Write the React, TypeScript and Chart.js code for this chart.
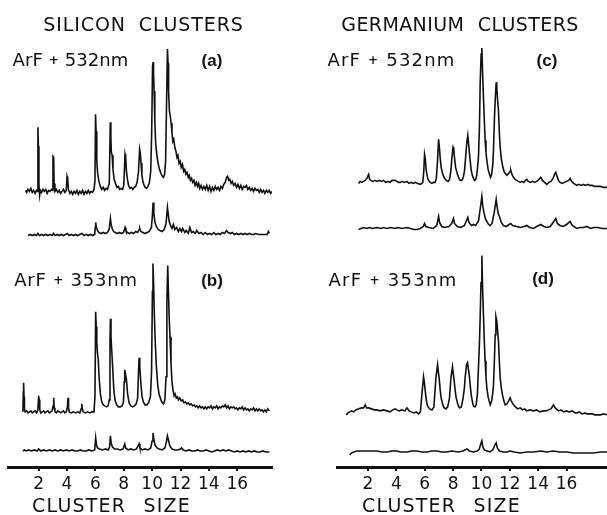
import React, { useEffect, useRef } from "react";
import { Chart, registerables } from "chart.js";

Chart.register(...registerables);

type Pt = [number, number];

// ---------- tick labels / text ----------
const CLUSTER_TICKS = [2, 4, 6, 8, 10, 12, 14, 16];
const TITLE_SI = "SILICON CLUSTERS";
const TITLE_GE = "GERMANIUM CLUSTERS";
const LASER_532 = ["ArF", "+", "532nm"];
const LASER_353 = ["ArF", "+", "353nm"];
const TAGS = ["(a)", "(b)", "(c)", "(d)"];
const AXIS_TITLE = "CLUSTER SIZE";

// ---------- data: [cluster size, signal] ----------
// (a) Si, ArF + 532 nm, upper trace
const SI_532_MAIN: Pt[] = [
  [1.08, 1], [1.15, -1], [1.25, 2], [1.35, 0], [1.45, 3], [1.55, -1], [1.65, 1], [1.75, -2], [1.85, 1], [1.92, 0],
  [1.95, 64], [1.98, 45], [2.02, 6], [2.07, -4], [2.12, 1], [2.2, -1], [2.3, 2], [2.4, 0], [2.5, 2], [2.6, -2], [2.7, 1], [2.8, 0], [2.9, 2], [2.98, 1],
  [3.01, 35], [3.06, 34], [3.09, 8], [3.15, 0], [3.25, 2], [3.35, -1], [3.45, 1], [3.55, -2], [3.65, 0], [3.75, 2], [3.85, -1], [3.95, 1],
  [4.0, 15], [4.05, 12], [4.1, 2], [4.2, -2], [4.3, 0], [4.4, -3], [4.5, 0], [4.6, -2], [4.7, 1], [4.8, -3], [4.9, 0], [5.0, -2], [5.1, 1], [5.2, -3], [5.3, 0], [5.4, -2], [5.5, 1], [5.6, -2], [5.7, 0], [5.8, -1], [5.9, 2], [5.97, 10],
  [6.01, 77], [6.05, 60], [6.1, 30], [6.16, 18], [6.25, 10], [6.35, 5], [6.45, 2], [6.55, 4], [6.65, 1], [6.75, 3], [6.85, 2], [6.98, 8],
  [7.05, 69], [7.09, 55], [7.12, 40], [7.18, 36], [7.24, 22], [7.32, 12], [7.42, 8], [7.52, 4], [7.62, 5], [7.72, 2], [7.82, 3], [7.92, 2], [8.0, 6],
  [8.09, 37], [8.14, 33], [8.19, 20], [8.26, 12], [8.34, 6], [8.44, 3], [8.54, 4], [8.64, 2], [8.74, 4], [8.84, 5], [8.94, 9], [9.04, 20],
  [9.12, 42], [9.17, 38], [9.22, 28], [9.28, 16], [9.36, 9], [9.44, 6], [9.52, 4], [9.6, 3], [9.7, 5], [9.8, 8], [9.9, 20], [9.97, 60],
  [10.03, 125], [10.07, 129], [10.1, 118], [10.14, 100], [10.19, 70], [10.25, 48], [10.32, 38], [10.42, 28], [10.52, 22], [10.62, 18], [10.72, 15], [10.8, 14], [10.88, 17], [10.95, 30], [11.02, 90],
  [11.08, 142], [11.12, 128], [11.16, 100], [11.22, 80], [11.28, 75], [11.34, 68], [11.4, 58], [11.46, 50], [11.52, 52], [11.6, 44], [11.68, 40], [11.75, 34], [11.82, 36], [11.9, 28], [11.98, 30],
  [12.05, 24], [12.14, 27], [12.22, 20], [12.3, 22], [12.38, 17], [12.46, 19], [12.55, 14], [12.62, 16], [12.7, 11], [12.78, 13], [12.86, 9], [12.95, 11],
  [13.03, 6], [13.12, 9], [13.2, 5], [13.28, 8], [13.36, 3], [13.45, 6], [13.55, 2], [13.65, 5], [13.75, 2], [13.85, 6], [13.95, 1],
  [14.05, 5], [14.15, 0], [14.25, 4], [14.35, 1], [14.45, 5], [14.55, 2], [14.65, 4], [14.75, 1], [14.85, 5], [14.95, 3],
  [15.05, 7], [15.15, 9], [15.25, 14], [15.32, 15], [15.4, 11], [15.48, 12], [15.56, 8], [15.65, 10], [15.75, 6], [15.85, 8], [15.95, 4],
  [16.05, 7], [16.15, 3], [16.25, 6], [16.35, 2], [16.45, 5], [16.55, 4], [16.65, 6], [16.75, 2], [16.85, 4], [16.95, 1],
  [17.05, 3], [17.15, 0], [17.25, 3], [17.35, 1], [17.45, 2], [17.55, -1], [17.65, 2], [17.75, -1], [17.85, 1], [17.95, -2],
  [18.05, 1], [18.15, -1], [18.25, 1], [18.35, -2], [18.45, 0],
];

// (a) Si, ArF + 532 nm, lower trace
const SI_532_REF: Pt[] = [
  [1.25, 0], [1.4, 1], [1.55, 0], [1.7, 1], [1.85, 0], [1.95, 2], [2.05, 0], [2.2, 1], [2.35, 0], [2.5, 1], [2.65, 0], [2.8, 1], [2.95, 0],
  [3.05, 2], [3.15, 0], [3.3, 1], [3.45, 0], [3.6, 1], [3.75, 0], [3.9, 1], [4.02, 2], [4.15, 0], [4.3, 1], [4.45, 0], [4.6, 1], [4.75, 0], [4.9, 1],
  [5.05, 2], [5.2, 0], [5.35, 1], [5.5, 0], [5.65, 1], [5.8, 0], [5.95, 1], [5.99, 8], [6.02, 13], [6.07, 8], [6.15, 5], [6.25, 3], [6.4, 2], [6.55, 3], [6.7, 2], [6.85, 3],
  [6.97, 6], [7.06, 17], [7.11, 11], [7.18, 7], [7.28, 4], [7.4, 3], [7.55, 2], [7.7, 3], [7.85, 2], [7.98, 3], [8.05, 6], [8.09, 8], [8.15, 5], [8.25, 3],
  [8.4, 2], [8.55, 3], [8.7, 2], [8.85, 4], [8.98, 3], [9.08, 6], [9.13, 7], [9.2, 4], [9.35, 3], [9.5, 2], [9.65, 3], [9.8, 4], [9.95, 8],
  [10.02, 20], [10.07, 33], [10.12, 22], [10.2, 13], [10.3, 9], [10.42, 6], [10.55, 5], [10.7, 4], [10.85, 6], [10.98, 12],
  [11.08, 28], [11.13, 22], [11.2, 14], [11.3, 10], [11.4, 7], [11.5, 11], [11.6, 6], [11.72, 8], [11.85, 4], [11.95, 7],
  [12.07, 4], [12.15, 7], [12.3, 3], [12.4, 5], [12.55, 2], [12.66, 8], [12.78, 3], [12.9, 4], [13.03, 2], [13.15, 5], [13.3, 2], [13.45, 3],
  [13.6, 1], [13.75, 3], [13.9, 1], [14.05, 2], [14.2, 1], [14.35, 3], [14.5, 1], [14.65, 2], [14.8, 1], [14.95, 3], [15.1, 2], [15.25, 5],
  [15.36, 3], [15.5, 2], [15.65, 3], [15.8, 1], [15.95, 2], [16.1, 1], [16.25, 2], [16.4, 1], [16.55, 2], [16.7, 1], [16.85, 2], [17.0, 1],
  [17.15, 1], [17.3, 2], [17.5, 1], [17.7, 1], [17.9, 1], [18.1, 1], [18.2, 4], [18.26, 2],
];

// (b) Si, ArF + 353 nm, upper trace
const SI_353_MAIN: Pt[] = [
  [0.89, 0], [0.92, 20], [0.94, 29], [0.97, 15], [1.0, 3], [1.05, 0], [1.15, 1], [1.25, -1], [1.35, 0], [1.45, 1], [1.55, -1], [1.65, 0], [1.75, 1], [1.85, -1], [1.95, 2],
  [2.0, 16], [2.04, 12], [2.08, 2], [2.15, -1], [2.25, 0], [2.35, 1], [2.45, -1], [2.55, 0], [2.65, 1], [2.75, -1], [2.85, 0], [2.95, 1],
  [3.02, 6], [3.06, 14], [3.1, 4], [3.15, 0], [3.25, -1], [3.35, 1], [3.45, 0], [3.55, -1], [3.65, 0], [3.75, 1], [3.85, -1], [3.95, 0],
  [4.03, 5], [4.07, 14], [4.11, 4], [4.16, 0], [4.3, -1], [4.45, 0], [4.6, -1], [4.75, 0], [4.9, -1],
  [5.0, 3], [5.04, 8], [5.08, 3], [5.15, 0], [5.3, -1], [5.45, 0], [5.6, -1], [5.75, 0], [5.9, 0], [5.97, 15],
  [6.02, 100], [6.06, 85], [6.1, 70], [6.14, 60], [6.2, 52], [6.26, 35], [6.35, 18], [6.45, 10], [6.55, 7], [6.66, 6], [6.78, 5], [6.9, 6], [6.98, 12],
  [7.03, 70], [7.06, 93], [7.1, 75], [7.15, 62], [7.22, 44], [7.3, 22], [7.38, 12], [7.5, 7], [7.62, 5], [7.75, 5], [7.88, 6], [7.98, 10],
  [8.03, 30], [8.07, 42], [8.12, 38], [8.19, 32], [8.27, 18], [8.38, 9], [8.5, 6], [8.62, 5], [8.75, 6], [8.88, 8], [8.98, 14],
  [9.04, 40], [9.08, 54], [9.13, 45], [9.2, 30], [9.28, 16], [9.38, 10], [9.5, 7], [9.62, 7], [9.75, 9], [9.88, 15], [9.96, 40],
  [10.02, 120], [10.06, 148], [10.1, 130], [10.16, 95], [10.22, 70], [10.3, 45], [10.4, 26], [10.5, 17], [10.62, 12], [10.72, 9], [10.8, 8], [10.9, 12], [10.98, 35],
  [11.04, 110], [11.1, 146], [11.14, 125], [11.2, 95], [11.26, 75], [11.33, 48], [11.4, 30], [11.47, 22], [11.55, 16], [11.62, 18], [11.7, 14], [11.78, 15], [11.86, 12], [11.95, 14],
  [12.05, 11], [12.15, 12], [12.25, 9], [12.35, 10], [12.45, 8], [12.55, 9], [12.65, 7], [12.75, 8], [12.85, 6], [12.95, 7],
  [13.05, 5], [13.15, 6], [13.25, 4], [13.35, 6], [13.45, 4], [13.55, 5], [13.65, 3], [13.75, 5], [13.85, 3], [13.95, 5],
  [14.05, 4], [14.15, 6], [14.25, 3], [14.35, 5], [14.45, 4], [14.55, 6], [14.65, 3], [14.75, 5], [14.85, 4], [14.95, 6],
  [15.05, 5], [15.15, 7], [15.25, 4], [15.35, 6], [15.45, 3], [15.55, 5], [15.65, 4], [15.75, 5], [15.85, 3], [15.95, 4],
  [16.05, 2], [16.15, 4], [16.25, 3], [16.35, 5], [16.45, 2], [16.55, 4], [16.65, 2], [16.75, 3], [16.85, 1], [16.95, 3],
  [17.05, 2], [17.15, 4], [17.25, 1], [17.35, 3], [17.45, 1], [17.55, 3], [17.65, 1], [17.75, 2], [17.85, 0], [17.95, 2],
  [18.05, 0], [18.15, 3], [18.26, 1],
];

// (b) Si, ArF + 353 nm, lower trace
const SI_353_REF: Pt[] = [
  [0.89, 0], [1.0, 1], [1.15, 0], [1.3, 1], [1.5, 0], [1.7, 1], [1.9, 0], [2.0, 2], [2.15, 0], [2.35, 1], [2.55, 0], [2.75, 1], [2.95, 0],
  [3.15, 1], [3.35, 0], [3.55, 1], [3.75, 0], [3.95, 1], [4.15, 0], [4.35, 1], [4.55, 0], [4.75, 0], [4.95, 1], [5.15, 0], [5.35, 0],
  [5.55, 1], [5.75, 0], [5.95, 1], [6.02, 13], [6.08, 6], [6.15, 3], [6.3, 2], [6.5, 1], [6.7, 2], [6.9, 1], [7.0, 4], [7.06, 15], [7.11, 8],
  [7.2, 4], [7.35, 2], [7.55, 2], [7.75, 1], [7.95, 2], [8.07, 7], [8.13, 3], [8.3, 1], [8.5, 2], [8.7, 1], [8.9, 2], [9.08, 7], [9.14, 3],
  [9.3, 1], [9.5, 2], [9.7, 1], [9.9, 3], [10.0, 10], [10.06, 18], [10.12, 12], [10.2, 6], [10.35, 3], [10.5, 2], [10.7, 1], [10.9, 3],
  [11.02, 10], [11.08, 15], [11.15, 11], [11.25, 5], [11.4, 2], [11.6, 1], [11.8, 1], [12.0, 2], [12.08, 3], [12.2, 1], [12.4, 0], [12.6, 1],
  [12.8, 0], [13.0, 0], [13.2, 1], [13.4, 0], [13.6, 0], [13.8, 1], [14.0, 0], [14.2, -1], [14.4, 0], [14.6, 1], [14.8, 0], [15.0, 1],
  [15.2, 0], [15.4, 1], [15.6, 0], [15.8, -1], [16.0, 0], [16.2, -1], [16.4, 0], [16.6, -1], [16.8, 0], [17.0, -1], [17.2, 0], [17.4, -1],
  [17.6, -1], [17.8, 0], [18.0, -1], [18.26, -1],
];

// (c) Ge, ArF + 532 nm, upper trace
const GE_532_MAIN: Pt[] = [
  [1.34, -1], [1.45, 1], [1.55, 0], [1.69, 1], [1.8, 2], [1.93, 4], [2.05, 8], [2.12, 3], [2.21, 2], [2.35, 1], [2.5, 2], [2.63, 1], [2.8, 2], [2.95, 1],
  [3.1, 2], [3.25, 0], [3.4, 1], [3.57, 0], [3.7, 2], [3.92, 2], [4.04, 1], [4.15, 0], [4.28, 0], [4.4, 1], [4.55, 0], [4.75, 1], [4.9, -1],
  [5.05, 0], [5.22, -1], [5.35, 0], [5.5, -1], [5.69, -2], [5.8, -1], [5.87, 0], [5.94, 12], [5.99, 28], [6.04, 24], [6.11, 12], [6.2, 5],
  [6.27, 2], [6.39, 0], [6.51, -1], [6.62, 0], [6.74, 0], [6.82, 4], [6.9, 20], [6.98, 43], [7.03, 36], [7.09, 25], [7.16, 15], [7.28, 8],
  [7.4, 4], [7.52, 2], [7.65, 1], [7.75, 3], [7.85, 12], [7.92, 25], [8.0, 35], [8.05, 33], [8.1, 25], [8.18, 15], [8.31, 8], [8.42, 4],
  [8.5, 2], [8.62, 2], [8.72, 5], [8.81, 12], [8.9, 28], [8.97, 40], [9.04, 47], [9.1, 38], [9.16, 28], [9.28, 12], [9.38, 6], [9.51, 2],
  [9.6, 3], [9.68, 8], [9.79, 25], [9.86, 55], [9.91, 98], [9.98, 128], [10.03, 134], [10.08, 110], [10.15, 82], [10.21, 60], [10.26, 42],
  [10.32, 30], [10.38, 22], [10.47, 13], [10.57, 8], [10.64, 5], [10.72, 8], [10.8, 18], [10.85, 32], [10.92, 65], [10.97, 82], [11.04, 100],
  [11.08, 96], [11.14, 82], [11.2, 72], [11.26, 50], [11.32, 35], [11.4, 24], [11.51, 15], [11.62, 10], [11.79, 7], [11.92, 9], [12.02, 11],
  [12.07, 12], [12.15, 8], [12.26, 5], [12.38, 3], [12.49, 2], [12.62, 1], [12.73, 0], [12.85, 1], [12.98, 0], [13.1, 2], [13.2, 3], [13.3, 1],
  [13.45, 0], [13.6, 1], [13.75, 0], [13.9, 1], [14.05, 3], [14.18, 5], [14.3, 2], [14.45, 0], [14.61, -2], [14.75, 0], [14.9, 1], [15.05, 4],
  [15.15, 8], [15.24, 10], [15.33, 6], [15.43, 2], [15.54, 0], [15.7, -1], [15.85, 0], [16.0, 1], [16.15, 2], [16.25, 4], [16.35, 1],
  [16.5, -1], [16.72, -3], [16.85, -2], [17.0, -3], [17.19, -2], [17.35, -3], [17.5, -2], [17.66, -3], [17.8, -3], [18.0, -4], [18.2, -4],
  [18.4, -4], [18.6, -5], [18.88, -5],
];

// (c) Ge, ArF + 532 nm, lower trace
const GE_532_REF: Pt[] = [
  [1.34, -1], [1.5, 0], [1.7, 1], [1.93, 0], [2.1, 1], [2.3, 0], [2.63, 1], [2.9, 0], [3.1, 1], [3.34, 0], [3.6, 1], [3.92, 0], [4.1, 1],
  [4.4, 0], [4.75, 1], [5.0, 0], [5.22, -1], [5.45, -1], [5.69, 0], [5.9, 2], [5.99, 5], [6.08, 2], [6.3, 1], [6.6, 0], [6.85, 3], [6.98, 12],
  [7.05, 6], [7.2, 2], [7.4, 1], [7.7, 2], [7.9, 5], [8.03, 10], [8.1, 5], [8.3, 2], [8.55, 1], [8.8, 3], [8.95, 8], [9.04, 11], [9.12, 6],
  [9.3, 3], [9.44, 4], [9.6, 3], [9.8, 8], [9.92, 20], [10.03, 32], [10.1, 22], [10.19, 15], [10.3, 9], [10.38, 7], [10.5, 4], [10.62, 3],
  [10.75, 5], [10.9, 16], [11.04, 29], [11.12, 20], [11.2, 14], [11.27, 12], [11.4, 6], [11.55, 3], [11.75, 2], [11.95, 4], [12.07, 5],
  [12.2, 3], [12.49, 2], [12.75, 1], [13.0, 2], [13.2, 3], [13.4, 1], [13.67, 0], [13.9, 2], [14.18, 4], [14.4, 2], [14.61, 1], [14.85, 2],
  [15.05, 6], [15.24, 10], [15.35, 5], [15.54, 3], [15.75, 2], [16.0, 4], [16.25, 7], [16.4, 3], [16.72, 0], [16.95, 1], [17.2, 1],
  [17.42, 2], [17.7, 0], [17.9, 1], [18.2, 1], [18.5, 0], [18.88, 0],
];

// (d) Ge, ArF + 353 nm, upper trace
const GE_353_MAIN: Pt[] = [
  [0.47, -2], [0.6, 0], [0.71, 1], [0.85, 2], [0.99, 1], [1.15, 3], [1.35, 4], [1.55, 5], [1.69, 5], [1.81, 8], [1.9, 5], [2.05, 5],
  [2.25, 4], [2.45, 3], [2.63, 3], [2.85, 2], [3.1, 3], [3.34, 2], [3.55, 1], [3.75, 3], [3.92, 4], [4.04, 3], [4.2, 2], [4.4, 3], [4.6, 2],
  [4.75, 5], [4.9, 2], [5.05, 1], [5.22, 0], [5.4, 1], [5.57, -1], [5.7, 1], [5.8, 18], [5.92, 36], [5.98, 30], [6.04, 22], [6.12, 12],
  [6.2, 7], [6.35, 4], [6.51, 3], [6.65, 6], [6.79, 35], [6.91, 48], [6.97, 40], [7.02, 35], [7.1, 22], [7.16, 15], [7.28, 8], [7.38, 5],
  [7.5, 4], [7.62, 6], [7.75, 15], [7.85, 35], [7.96, 46], [8.01, 40], [8.08, 32], [8.15, 22], [8.22, 15], [8.35, 8], [8.46, 5], [8.58, 6],
  [8.7, 14], [8.8, 25], [8.85, 35], [8.95, 48], [9.02, 50], [9.08, 44], [9.14, 38], [9.22, 26], [9.28, 18], [9.38, 10], [9.44, 7], [9.55, 6],
  [9.63, 8], [9.72, 20], [9.79, 45], [9.86, 70], [9.91, 95], [9.97, 130], [10.03, 157], [10.08, 125], [10.15, 95], [10.2, 72], [10.26, 52],
  [10.32, 36], [10.38, 25], [10.47, 16], [10.54, 12], [10.62, 8], [10.72, 12], [10.8, 20], [10.85, 28], [10.92, 55], [10.97, 78], [11.02, 96],
  [11.08, 92], [11.14, 82], [11.2, 72], [11.26, 52], [11.32, 35], [11.4, 25], [11.48, 18], [11.58, 12], [11.67, 8], [11.8, 9], [11.92, 12],
  [12.02, 15], [12.1, 12], [12.26, 8], [12.4, 6], [12.55, 4], [12.73, 5], [12.9, 3], [13.05, 4], [13.2, 2], [13.4, 3], [13.67, 2], [13.9, 3],
  [14.1, 1], [14.37, 2], [14.55, 2], [14.72, 3], [14.9, 4], [15.08, 8], [15.2, 5], [15.43, 2], [15.6, 3], [15.8, 1], [16.01, 2], [16.2, 1],
  [16.4, 2], [16.6, 0], [16.72, 0], [16.9, 1], [17.1, -1], [17.3, 0], [17.42, -1], [17.6, -1], [17.8, -1], [18.0, -2], [18.13, -2],
  [18.4, -2], [18.6, -1], [18.88, -2],
];

// (d) Ge, ArF + 353 nm, lower trace
const GE_353_REF: Pt[] = [
  [0.71, -2], [0.85, 0], [1.0, 1], [1.23, 2], [1.5, 2], [1.93, 2], [2.3, 2], [2.63, 2], [3.0, 1], [3.34, 1], [3.7, 2], [4.04, 2], [4.3, 1],
  [4.75, 1], [5.1, 2], [5.45, 2], [5.8, 1], [6.15, 1], [6.5, 2], [6.86, 2], [7.2, 1], [7.56, 1], [7.9, 2], [8.38, 1], [8.7, 2], [8.97, 4],
  [9.15, 2], [9.44, 1], [9.7, 2], [9.85, 4], [9.95, 9], [10.03, 12], [10.1, 6], [10.2, 3], [10.4, 2], [10.6, 1], [10.8, 3], [10.95, 8],
  [11.04, 10], [11.12, 5], [11.27, 2], [11.55, 1], [11.8, 1], [12.02, 2], [12.3, 1], [12.73, 0], [13.2, 1], [13.67, 1], [14.18, 2],
  [14.6, 1], [15.08, 2], [15.5, 1], [16.01, 1], [16.5, 0], [16.95, 0], [17.42, 0], [17.9, 0], [18.4, 1], [18.88, 1],
];

// ---------- layout (not data) ----------
const INK = "#111111";
const Y_SPAN = 466; // vertical units of each panel's plot area
const FONT = "'DejaVu Sans', sans-serif";

type Trace = { values: Pt[]; base: number };

type PanelProps = {
  traces: Trace[];
  xMin: number;
  xMax: number;
  left: number;
  width: number;
  padLeft: number;
  padRight: number;
};

function Panel({ traces, xMin, xMax, left, width, padLeft, padRight }: PanelProps) {
  const ref = useRef<HTMLCanvasElement | null>(null);
  useEffect(() => {
    if (!ref.current) return;
    const chart = new Chart(ref.current, {
      type: "line",
      data: {
        datasets: traces.map((t) => ({
          data: t.values.map(([x, y]) => ({ x, y: y + t.base })),
          borderColor: INK,
          borderWidth: 1.6,
          pointRadius: 0,
          tension: 0,
          fill: false,
        })),
      },
      options: {
        animation: false,
        responsive: false,
        events: [],
        layout: { padding: { left: padLeft, right: padRight, top: 0, bottom: 17.6 } },
        plugins: {
          legend: { display: false },
          tooltip: { enabled: false },
          title: { display: false },
        },
        scales: {
          x: {
            type: "linear",
            min: xMin,
            max: xMax,
            afterBuildTicks: (scale: any) => {
              scale.ticks = CLUSTER_TICKS.map((v) => ({ value: v }));
            },
            grid: {
              display: true,
              drawOnChartArea: false,
              drawTicks: true,
              tickLength: 4,
              color: INK,
              lineWidth: 2,
            },
            border: { display: true, color: INK, width: 3 },
            ticks: {
              color: INK,
              font: { family: FONT, size: 17 },
              padding: 3,
              autoSkip: false,
              maxRotation: 0,
              callback: (v: any) => String(v),
            },
          },
          y: { display: false, min: 0, max: Y_SPAN },
        },
      },
    } as any);
    return () => chart.destroy();
  }, []);
  return (
    <canvas
      ref={ref}
      width={width}
      height={515}
      style={{ position: "absolute", left, top: 0, width, height: 515 }}
    />
  );
}

function Label({
  x, y, size, children, family = FONT, weight = 400, spacing = 0, wordSpacing = 0,
}: {
  x: number; y: number; size: number; children: React.ReactNode; family?: string;
  weight?: number; spacing?: number; wordSpacing?: number;
}) {
  return (
    <div
      style={{
        position: "absolute",
        left: x,
        top: y,
        transform: "translate(-50%, -50%)",
        whiteSpace: "pre",
        lineHeight: 1,
        fontFamily: family,
        fontSize: size,
        fontWeight: weight,
        letterSpacing: spacing,
        wordSpacing,
        color: INK,
      }}
    >
      {children}
    </div>
  );
}

function Laser({ x, y, parts, spacing }: { x: number; y: number; parts: string[]; spacing: number }) {
  return (
    <Label x={x} y={y} size={18} spacing={spacing}>
      {parts[0]}{" "}
      <span style={{ fontSize: 12, fontWeight: 700, position: "relative", top: -2 }}>{parts[1]}</span>{" "}
      {parts[2]}
    </Label>
  );
}

export default function App() {
  const tagFont = "'Liberation Sans', Arial, sans-serif";
  return (
    <div
      style={{
        position: "absolute",
        left: 0,
        top: 0,
        width: 607,
        height: 515,
        background: "#fff",
        overflow: "hidden",
      }}
    >
      <Panel
        traces={[
          { values: SI_532_MAIN, base: 275 },
          { values: SI_532_REF, base: 231 },
          { values: SI_353_MAIN, base: 55 },
          { values: SI_353_REF, base: 16 },
        ]}
        xMin={-0.16}
        xMax={18.45}
        left={0}
        width={300}
        padLeft={8}
        padRight={28}
      />
      <Panel
        traces={[
          { values: GE_532_MAIN, base: 284 },
          { values: GE_532_REF, base: 238 },
          { values: GE_353_MAIN, base: 54 },
          { values: GE_353_REF, base: 14 },
        ]}
        xMin={-0.18}
        xMax={18.85}
        left={300}
        width={307}
        padLeft={37}
        padRight={0}
      />

      <Label x={143.5} y={23.5} size={19} spacing={0.9} wordSpacing={6}>{TITLE_SI}</Label>
      <Label x={460} y={23.5} size={19} spacing={0.4} wordSpacing={7}>{TITLE_GE}</Label>

      <Laser x={70.5} y={60} parts={LASER_532} spacing={0.1} />
      <Laser x={391.5} y={60} parts={LASER_532} spacing={1.2} />
      <Laser x={76} y={280} parts={LASER_353} spacing={0.8} />
      <Laser x={393} y={280} parts={LASER_353} spacing={1.3} />

      <Label x={212} y={60} size={17} family={tagFont} weight={700}>{TAGS[0]}</Label>
      <Label x={212} y={280} size={17} family={tagFont} weight={700}>{TAGS[1]}</Label>
      <Label x={547} y={60} size={17} family={tagFont} weight={700}>{TAGS[2]}</Label>
      <Label x={543} y={278} size={17} family={tagFont} weight={700}>{TAGS[3]}</Label>

      <Label x={111.5} y={505} size={19} spacing={1.2} wordSpacing={10}>{AXIS_TITLE}</Label>
      <Label x={441.5} y={505} size={19} spacing={1.2} wordSpacing={10}>{AXIS_TITLE}</Label>
    </div>
  );
}
